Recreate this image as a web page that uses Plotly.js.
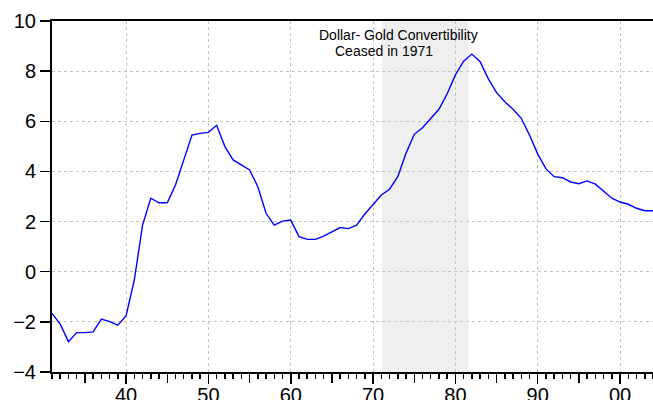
<!DOCTYPE html>
<html>
<head>
<meta charset="utf-8">
<script src="https://cdn.plot.ly/plotly-3.0.1.min.js"></script>
<style>
html,body{margin:0;padding:0;background:#fff;}
#chart{width:653px;height:400px;}
</style>
</head>
<body>
<div id="chart"></div>
<script>
// Data
var years = [];
for (var yr = 1931; yr <= 2004; yr++) years.push(yr);
var values = [
  -1.66, -2.09, -2.79, -2.43, -2.43, -2.40, -1.89, -1.99, -2.13, -1.75,
  -0.33, 1.86, 2.93, 2.75, 2.75, 3.46, 4.45, 5.45, 5.52, 5.56,
  5.84, 4.99, 4.46, 4.26, 4.06, 3.39, 2.33, 1.86, 2.02, 2.06,
  1.40, 1.29, 1.29, 1.42, 1.58, 1.76, 1.72, 1.86, 2.30, 2.66,
  3.06, 3.29, 3.79, 4.72, 5.48, 5.74, 6.12, 6.48, 7.10, 7.85,
  8.40, 8.68, 8.38, 7.69, 7.14, 6.78, 6.48, 6.12, 5.45, 4.69,
  4.10, 3.79, 3.75, 3.58, 3.51, 3.62, 3.49, 3.19, 2.93, 2.78,
  2.69, 2.53, 2.43, 2.43
];
var xTickVals = [1940, 1950, 1960, 1970, 1980, 1990, 2000];
var xTickText = ["40", "50", "60", "70", "80", "90", "00"];
var shadeStart = 1971.1;
var shadeEnd = 1981.6;
var noteLine1 = "Dollar- Gold Convertibility";
var noteLine2 = "Ceased in 1971";

var fontFam = "Liberation Sans, Arial, sans-serif";
var xRange = [1931, 2004];

var traces = [
  {
    x: years, y: values, type: 'scatter', mode: 'lines',
    line: {color: '#0000ff', width: 1.4},
    hoverinfo: 'skip', showlegend: false
  },
  {
    x: [years[0]], y: [values[0]], xaxis: 'x2', type: 'scatter', mode: 'markers',
    marker: {opacity: 0}, hoverinfo: 'skip', showlegend: false
  }
];

var layout = {
  width: 653, height: 400,
  margin: {l: 52, r: 0, t: 21, b: 28},
  paper_bgcolor: '#ffffff', plot_bgcolor: '#ffffff',
  font: {family: fontFam, color: '#000'},
  showlegend: false,
  xaxis: {
    range: xRange,
    tickmode: 'array', tickvals: xTickVals, ticktext: xTickText,
    ticks: 'outside', ticklen: 10, tickwidth: 1.5, tickcolor: '#000',
    tickfont: {size: 20, family: fontFam, color: '#000'},
    ticklabelstandoff: -6,
    showgrid: true, gridcolor: '#c4c4c4', gridwidth: 1, griddash: '3px,3px',
    zeroline: false,
    showline: true, linecolor: '#000', linewidth: 2, mirror: true,
    minor: {dtick: 1, tick0: 1931, ticks: 'outside', ticklen: 5, tickwidth: 1.5, tickcolor: '#000', showgrid: false}
  },
  xaxis2: {
    range: xRange, overlaying: 'x', anchor: 'y', side: 'bottom',
    dtick: 5, tick0: 1930, ticks: 'outside', ticklen: 10, tickwidth: 1.5, tickcolor: '#000',
    showticklabels: false, showgrid: false, zeroline: false, showline: false
  },
  yaxis: {
    range: [-4, 10], dtick: 2, tick0: -4,
    ticks: 'outside', ticklen: 10, tickwidth: 1.5, tickcolor: '#000',
    tickfont: {size: 20, family: fontFam, color: '#000'},
    showgrid: true, gridcolor: '#c4c4c4', gridwidth: 1, griddash: '3px,3px',
    zeroline: false,
    showline: true, linecolor: '#000', linewidth: 2
  },
  shapes: [
    {type: 'rect', xref: 'x', yref: 'paper', x0: shadeStart, x1: shadeEnd, y0: 0, y1: 1,
     fillcolor: '#efefef', line: {width: 0}, layer: 'below'}
  ],
  annotations: [
    {text: noteLine1, xref: 'x', yref: 'y', x: 1963.2, y: 9.45, xanchor: 'left', yanchor: 'middle',
     showarrow: false, font: {size: 14, family: fontFam, color: '#000'}},
    {text: noteLine2, xref: 'x', yref: 'y', x: 1965.1, y: 8.82, xanchor: 'left', yanchor: 'middle',
     showarrow: false, font: {size: 14, family: fontFam, color: '#000'}}
  ]
};

Plotly.newPlot('chart', traces, layout, {displayModeBar: false, staticPlot: true});
</script>
</body>
</html>
